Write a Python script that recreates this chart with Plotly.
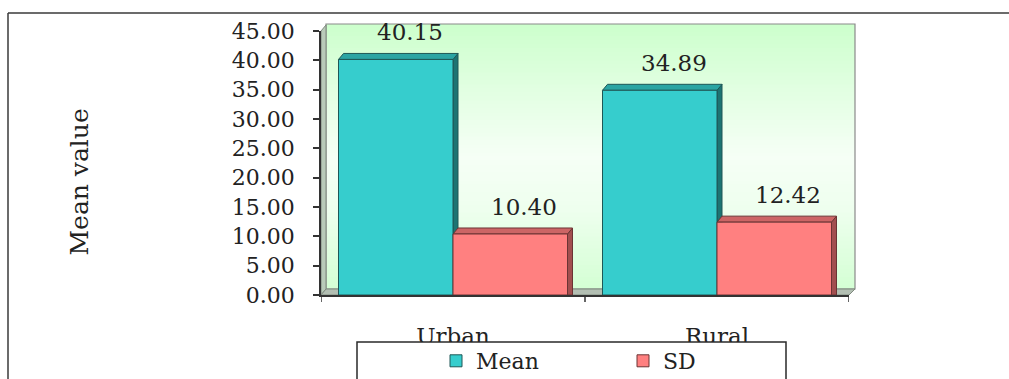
import plotly.graph_objects as go

# ---- data ----
areas = ["Urban", "Rural"]
mean_vals = [40.15, 34.89]
sd_vals = [10.40, 12.42]
series_names = ["Mean", "SD"]
y_ticks = [0, 5, 10, 15, 20, 25, 30, 35, 40, 45]

# ---- page / plot geometry (pixels) ----
W, H = 1009, 379
PX_L, PX_R = 321, 849      # x extent of the plotting area
PY_T, PY_B = 31, 295       # y extent (45 at top, 0 at bottom)
Y_MAX = 45
DEPTH_X, DEPTH_Y = 5, 6    # 3-D depth offset of walls and bar faces
BARGAP = 0.1326

FONT = "DejaVu Serif"
TXT = "#222222"
AX = "#333333"

FRONT = ["#36cdcd", "#ff8080"]
TOP = ["#2ba4a3", "#cc6565"]
SIDE = ["#1d7473", "#a24f4f"]
EDGE = ["#1e5756", "#6b3434"]


def px2x(px):
    return (px - PX_L) / (PX_R - PX_L)


def px2y(py):
    return (PY_B - py) / (PY_B - PY_T)


cat_px = (PX_R - PX_L) / len(areas)           # pixels per category
ddx = DEPTH_X / cat_px                         # depth in category units
ddy = DEPTH_Y * Y_MAX / (PY_B - PY_T)          # depth in value units
bar_w = (1 - BARGAP) / 2

fig = go.Figure()
for k, (name, vals) in enumerate(zip(series_names, [mean_vals, sd_vals])):
    fig.add_trace(go.Bar(
        name=name, x=list(range(len(areas))), y=vals,
        marker=dict(color=FRONT[k], line=dict(color=EDGE[k], width=1)),
        hoverinfo="skip",
    ))

shapes = []

# back wall with vertical green-white-green gradient
wall_x0, wall_x1 = PX_L + DEPTH_X, PX_R + DEPTH_X + 1
wall_yt, wall_yb = PY_T - DEPTH_Y - 1, PY_B - DEPTH_Y
stops = [(0.0, (212, 255, 212)), (0.3, (238, 255, 238)), (0.5, (246, 255, 246)),
         (0.75, (226, 255, 226)), (1.0, (204, 255, 204))]


def grad(t):
    for (t0, c0), (t1, c1) in zip(stops[:-1], stops[1:]):
        if t0 <= t <= t1:
            f = (t - t0) / (t1 - t0)
            return "rgb(%d,%d,%d)" % tuple(round(a + (b - a) * f) for a, b in zip(c0, c1))
    return "rgb(%d,%d,%d)" % stops[-1][1]


N = 66
span = wall_yb - wall_yt
for i in range(N):
    y_a = wall_yb - span * i / N
    y_b = wall_yb - span * (i + 1) / N - 0.8
    shapes.append(dict(type="rect", xref="paper", yref="paper", layer="below",
                       x0=px2x(wall_x0), x1=px2x(wall_x1),
                       y0=px2y(y_a), y1=px2y(max(y_b, wall_yt)),
                       fillcolor=grad((i + 0.5) / N), line=dict(width=0)))
shapes.append(dict(type="rect", xref="paper", yref="paper", layer="below",
                   x0=px2x(wall_x0), x1=px2x(wall_x1), y0=px2y(wall_yb), y1=px2y(wall_yt),
                   fillcolor="rgba(0,0,0,0)", line=dict(color="#8a8a8a", width=1.2)))

# left side wall
lw = [(PX_L, PY_B), (PX_L, PY_T), (PX_L + DEPTH_X, PY_T - DEPTH_Y), (PX_L + DEPTH_X, PY_B - DEPTH_Y)]
shapes.append(dict(type="path", xref="paper", yref="paper", layer="below",
                   path="M" + " L".join("%f,%f" % (px2x(a), px2y(b)) for a, b in lw) + " Z",
                   fillcolor="#b9cbb9", line=dict(color="#7f8a7f", width=1)))

# floor
fl = [(PX_L, PY_B), (PX_L + DEPTH_X, PY_B - DEPTH_Y), (PX_R + DEPTH_X + 1, PY_B - DEPTH_Y), (PX_R, PY_B)]
shapes.append(dict(type="path", xref="paper", yref="paper", layer="below",
                   path="M" + " L".join("%f,%f" % (px2x(a), px2y(b)) for a, b in fl) + " Z",
                   fillcolor="#b3bfb3", line=dict(color="#7f8a7f", width=1)))

# 3-D top and side faces of each bar (drawn in data space, behind the front faces)
for i in range(len(areas)):
    for k, vals in enumerate([mean_vals, sd_vals]):
        v = vals[i]
        xl = i - bar_w + k * bar_w
        xr = xl + bar_w
        side = "M%f,0 L%f,0 L%f,%f L%f,%f Z" % (xr, xr + ddx, xr + ddx, v + ddy, xr, v)
        shapes.append(dict(type="path", xref="x", yref="y", layer="below", path=side,
                           fillcolor=SIDE[k], line=dict(color=EDGE[k], width=1)))
        top = "M%f,%f L%f,%f L%f,%f L%f,%f Z" % (xl, v, xl + ddx, v + ddy, xr + ddx, v + ddy, xr, v)
        shapes.append(dict(type="path", xref="x", yref="y", layer="below", path=top,
                           fillcolor=TOP[k], line=dict(color=EDGE[k], width=1)))

# outer chart frame (top and left edges)
shapes.append(dict(type="line", xref="paper", yref="paper", layer="above",
                   x0=px2x(8), x1=px2x(W + 2), y0=px2y(13), y1=px2y(13),
                   line=dict(color="#3a3a3a", width=1.5)))
shapes.append(dict(type="line", xref="paper", yref="paper", layer="above",
                   x0=px2x(8), x1=px2x(8), y0=px2y(13), y1=px2y(H + 2),
                   line=dict(color="#3a3a3a", width=1.5)))

# legend frame
shapes.append(dict(type="rect", xref="paper", yref="paper", layer="above",
                   x0=px2x(357), x1=px2x(786), y0=px2y(H + 3), y1=px2y(342),
                   fillcolor="white", line=dict(color="#2a2a2a", width=1.5)))

# value labels
annotations = []
for k, vals in enumerate([mean_vals, sd_vals]):
    for i, v in enumerate(vals):
        xc = i - bar_w / 2 + k * bar_w
        annotations.append(dict(x=xc, y=v, xref="x", yref="y", text="%.2f" % v,
                                showarrow=False, xshift=14, yshift=27,
                                font=dict(family=FONT, size=23, color=TXT)))

annotations.append(dict(x=px2x(62), y=px2y(182), xref="paper", yref="paper",
                        text="Mean value", textangle=-90, showarrow=False,
                        font=dict(family=FONT, size=25, color=TXT)))

fig.update_layout(
    width=W, height=H,
    margin=dict(l=PX_L, r=W - PX_R, t=PY_T, b=H - PY_B, pad=0, autoexpand=False),
    paper_bgcolor="white", plot_bgcolor="rgba(0,0,0,0)",
    barmode="group", bargap=BARGAP, bargroupgap=0,
    font=dict(family=FONT, size=22, color=TXT),
    shapes=shapes, annotations=annotations,
    showlegend=True,
    legend=dict(orientation="h", x=px2x(436), xanchor="left",
                y=px2y(361), yanchor="middle",
                bgcolor="rgba(0,0,0,0)", borderwidth=0,
                entrywidth=142, entrywidthmode="pixels",
                font=dict(family=FONT, size=22, color=TXT)),
    xaxis=dict(type="linear", range=[-0.5, len(areas) - 0.5],
               tickmode="array", tickvals=list(range(len(areas))), ticktext=areas,
               showline=True, linecolor=AX, linewidth=1.5,
               ticks="", showgrid=False, zeroline=False,
               ticklabelstandoff=20,
               tickfont=dict(family=FONT, size=23, color=TXT)),
    yaxis=dict(range=[0, Y_MAX], tickmode="array", tickvals=y_ticks,
               ticktext=["%.2f" % t for t in y_ticks],
               showline=True, linecolor=AX, linewidth=1.5,
               ticks="outside", ticklen=6, tickcolor=AX, tickwidth=1.5,
               showgrid=False, zeroline=False, ticklabelstandoff=14,
               tickfont=dict(family=FONT, size=22, color=TXT)),
)

# category boundary ticks on the x axis
for b in [i - 0.5 for i in range(len(areas) + 1)]:
    fig.add_shape(type="line", xref="x", yref="paper", layer="above",
                  x0=b, x1=b, y0=0, y1=px2y(PY_B + 7),
                  line=dict(color=AX, width=1.5))

fig.write_html("out.html")
